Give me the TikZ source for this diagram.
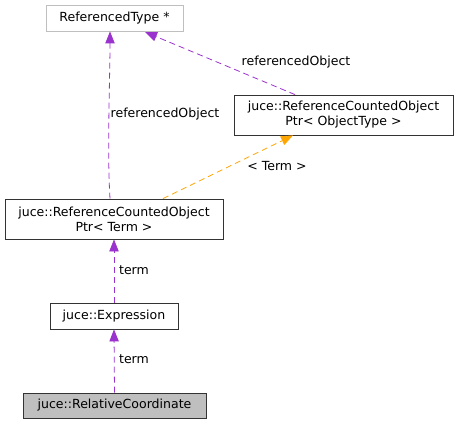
\documentclass[tikz,border=0pt]{standalone}
\usepackage{fontspec}
\setmainfont{DejaVu Sans}
\usetikzlibrary{arrows.meta}
\definecolor{edgepurple}{HTML}{9A32CD}
\definecolor{edgeorange}{HTML}{FFA500}
\definecolor{lightgrayb}{HTML}{BFBFBF}
\begin{document}
\begin{tikzpicture}[x=0.75pt,y=-0.75pt,
  every node/.style={font=\fontsize{9.4}{11.2}\selectfont},
  cls/.style={draw=black!80,line width=0.6pt,fill=white,inner sep=0pt,align=center},
  ext/.style={draw=lightgrayb,line width=0.6pt,fill=white,inner sep=0pt},
  cur/.style={draw=black!80,line width=0.6pt,fill=lightgrayb,inner sep=0pt},
  usage/.style={draw=edgepurple,dashed,dash pattern=on 4.5pt off 3pt,line width=0.6pt,-{Triangle[length=9pt,width=7pt]}},
  tmpl/.style={draw=edgeorange,dashed,dash pattern=on 4.5pt off 3pt,line width=0.6pt,-{Triangle[length=9pt,width=7pt]}},
  lbl/.style={inner sep=1pt}]
\useasboundingbox (0,0) rectangle (459,424);
\node[ext,minimum width=137*0.75pt,minimum height=26*0.75pt] (rt) at (114.5,18) {ReferencedType *};
\node[cls,minimum width=219*0.75pt,minimum height=40*0.75pt] (pot) at (343.5,115) {juce::ReferenceCountedObject\\Ptr< ObjectType >};
\node[cls,minimum width=218*0.75pt,minimum height=40*0.75pt] (pt) at (114,219) {juce::ReferenceCountedObject\\Ptr< Term >};
\node[cls,minimum width=128*0.75pt,minimum height=26*0.75pt] (ex) at (114,316) {juce::Expression};
\node[cur,minimum width=183*0.75pt,minimum height=25*0.75pt] (rc) at (114.5,405.5) {juce::RelativeCoordinate};
\draw[usage] (pt.north -| 110,0) .. controls (107,150) and (110,80) .. (rt.south -| 110,0);
\node[lbl] at (165,114) {referencedObject};
\draw[usage] (pot.north -| 295,0) -- (145,32);
\node[lbl] at (296,62) {referencedObject};
\draw[tmpl] (pt.north -| 163,0) -- (pot.south -| 293,0);
\node[lbl] at (277,166) {< Term >};
\draw[usage] (ex.north) -- (pt.south);
\node[lbl] at (134,270) {term};
\draw[usage] (rc.north) -- (ex.south);
\node[lbl] at (134,359) {term};
\end{tikzpicture}
\end{document}
